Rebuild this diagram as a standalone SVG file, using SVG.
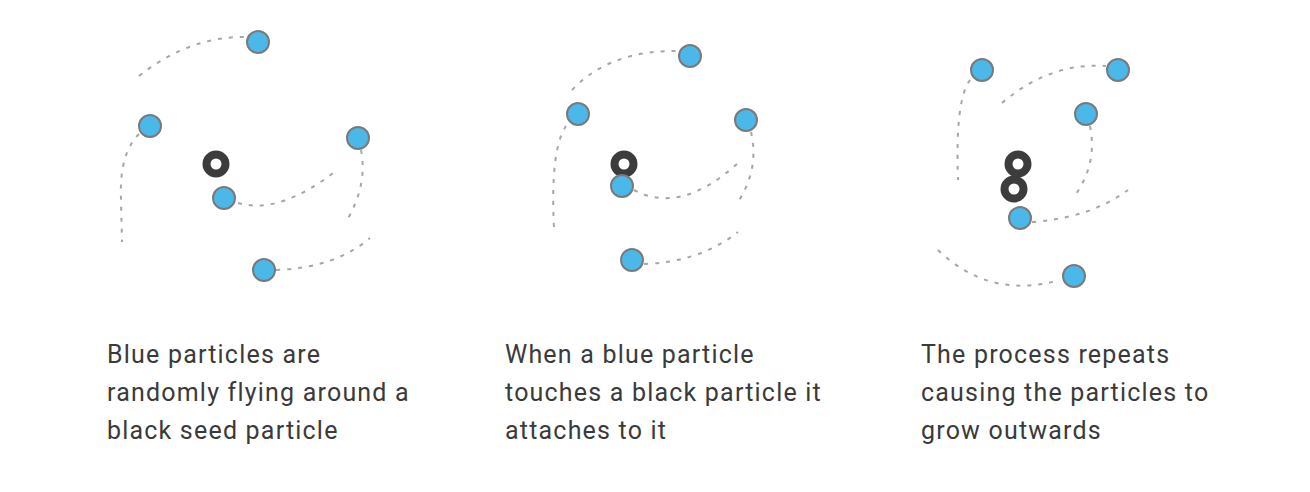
<svg xmlns="http://www.w3.org/2000/svg" width="1310" height="492" viewBox="0 0 1310 492">
<style>
.bp{fill:#4ab9ea;stroke:#7a7a7a;stroke-width:2}
.seed{fill:#fff;stroke:#3c3c3c;stroke-width:8}
.trail{fill:none;stroke:#a6a6a6;stroke-width:2;stroke-dasharray:4 7}
.cap{font-family:Roboto,"Liberation Sans",sans-serif;font-size:25px;fill:#3a3a3a;letter-spacing:1.2px}
</style>
<rect width="1310" height="492" fill="#fff"/>
<g id="connectors">
<path class="trail" d="M139,76 Q190,36 246,37"/>
<path class="trail" d="M139,134 C123,150 120,175 121,200 L122,242"/>
<path class="trail" d="M238,203 Q280,215 337,170"/>
<path class="trail" d="M361,150 Q368,185 346,222"/>
<path class="trail" d="M276,270 Q335,268 370,238"/>
<path class="trail" d="M572,90 Q610,50 678,51"/>
<path class="trail" d="M566,126 Q550,150 554,228"/>
<path class="trail" d="M634,190 Q680,215 737,164"/>
<path class="trail" d="M751,132 Q760,170 736,205"/>
<path class="trail" d="M644,264 Q700,262 738,232"/>
<path class="trail" d="M970,80 Q955,100 958,180"/>
<path class="trail" d="M1002,103 Q1050,62 1106,66"/>
<path class="trail" d="M1090,126 Q1098,165 1073,198"/>
<path class="trail" d="M1032,222 Q1090,218 1128,190"/>
<path class="trail" d="M938,250 Q990,300 1060,280"/>
</g>
<g id="panel1">
<circle id="p1-seed" class="seed" cx="216" cy="164" r="9.5"/>
<circle id="p1-b1" class="bp" cx="258" cy="42" r="11"/>
<circle id="p1-b2" class="bp" cx="150" cy="126" r="11"/>
<circle id="p1-b3" class="bp" cx="358" cy="138" r="11"/>
<circle id="p1-b4" class="bp" cx="224" cy="198" r="11"/>
<circle id="p1-b5" class="bp" cx="264" cy="270" r="11"/>
<text class="cap" x="107"><tspan x="107" y="363">Blue particles are</tspan><tspan x="107" y="401">randomly flying around a</tspan><tspan x="107" y="439">black seed particle</tspan></text>
</g>
<g id="panel2">
<circle id="p2-seed" class="seed" cx="624" cy="164" r="9.5"/>
<circle id="p2-b1" class="bp" cx="690" cy="56" r="11"/>
<circle id="p2-b2" class="bp" cx="578" cy="114" r="11"/>
<circle id="p2-b3" class="bp" cx="746" cy="120" r="11"/>
<circle id="p2-b4" class="bp" cx="622" cy="186" r="11"/>
<circle id="p2-b5" class="bp" cx="632" cy="260" r="11"/>
<text class="cap" x="505"><tspan x="505" y="363">When a blue particle</tspan><tspan x="505" y="401">touches a black particle it</tspan><tspan x="505" y="439">attaches to it</tspan></text>
</g>
<g id="panel3">
<circle id="p3-seed1" class="seed" cx="1018" cy="164" r="9.5"/>
<circle id="p3-seed2" class="seed" cx="1014" cy="189" r="9.5"/>
<circle id="p3-b1" class="bp" cx="982" cy="70" r="11"/>
<circle id="p3-b2" class="bp" cx="1118" cy="70" r="11"/>
<circle id="p3-b3" class="bp" cx="1086" cy="114" r="11"/>
<circle id="p3-b4" class="bp" cx="1020" cy="218" r="11"/>
<circle id="p3-b5" class="bp" cx="1074" cy="276" r="11"/>
<text class="cap" x="921"><tspan x="921" y="363">The process repeats</tspan><tspan x="921" y="401">causing the particles to</tspan><tspan x="921" y="439">grow outwards</tspan></text>
</g>
</svg>
